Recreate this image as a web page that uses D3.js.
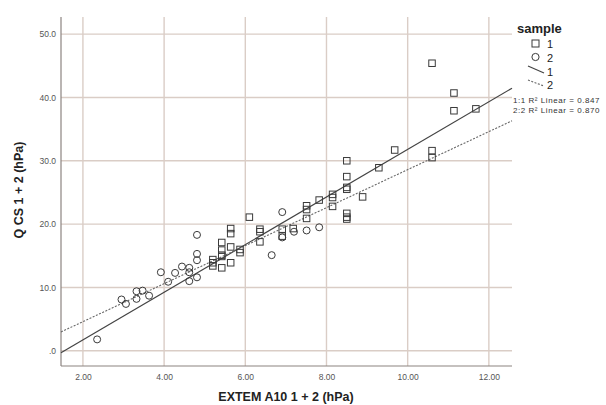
<!DOCTYPE html>
<html>
<head>
<meta charset="utf-8">
<script src="https://cdn.jsdelivr.net/npm/d3@7"></script>
<style>
  html, body { margin: 0; padding: 0; background: #fff; }
  svg { display: block; font-family: "Liberation Sans", Arial, sans-serif; }
</style>
</head>
<body>
<svg id="chart" width="606" height="405"></svg>
<script>
// EXTEM A10 vs QCS, two samples with linear fits
const xTicks = [2, 4, 6, 8, 10, 12];
const yTicks = [0, 10, 20, 30, 40, 50];
const xTickLabels = ["2.00", "4.00", "6.00", "8.00", "10.00", "12.00"];
const yTickLabels = [".0", "10.0", "20.0", "30.0", "40.0", "50.0"];

// sample 1 (squares)
const sample1X = [5.20, 5.20, 5.20, 5.42, 5.42, 5.42, 5.42, 5.42, 5.64, 5.64, 5.64, 5.64,
  5.87, 5.87, 6.10, 6.36, 6.36, 6.36, 6.91, 6.91, 7.18, 7.51, 7.51, 7.51, 7.82,
  8.15, 8.15, 8.15, 8.50, 8.50, 8.50, 8.50, 8.50, 8.50, 8.50, 8.89, 9.29, 9.68,
  10.60, 10.60, 10.60, 11.14, 11.14, 11.68];
const sample1Y = [13.9, 14.4, 13.4, 17.1, 15.9, 15.1, 14.9, 13.1, 19.3, 18.5, 16.4, 13.9,
  16.0, 15.5, 21.1, 19.2, 18.8, 17.2, 19.2, 18.1, 19.3, 22.9, 22.3, 20.9, 23.8,
  24.7, 24.2, 22.8, 30.0, 27.5, 25.8, 25.5, 21.7, 21.1, 20.8, 24.3, 28.9, 31.7,
  45.4, 31.6, 30.5, 40.7, 37.9, 38.2];

// sample 2 (circles)
const sample2X = [2.35, 2.95, 3.06, 3.32, 3.47, 3.32, 3.63, 3.92, 4.10, 4.27, 4.44, 4.62,
  4.62, 4.62, 4.81, 4.81, 4.81, 4.81, 6.65, 6.91, 6.91, 7.20, 7.51, 7.82];
const sample2Y = [1.8, 8.1, 7.4, 9.4, 9.5, 8.2, 8.7, 12.4, 10.9, 12.3, 13.3, 13.1,
  12.4, 11.0, 18.3, 15.3, 14.3, 11.6, 15.1, 21.9, 17.9, 18.8, 19.0, 19.5];

// linear fit lines: [intercept, slope]
const fitNames = ["1", "2"];
const fitIntercepts = [-5.8, -1.4];
const fitSlopes = [3.76, 3.0];
const fitLabels = ["1:1 R\u00b2 Linear = 0.847", "2:2 R\u00b2 Linear = 0.870"];

const svg = d3.select("#chart");
const plot = { left: 61, right: 512, top: 17, bottom: 366 };

const x = d3.scaleLinear().domain([1.46, 12.57]).range([plot.left, plot.right]);
const y = d3.scaleLinear().domain([-2.4, 52.7]).range([plot.bottom, plot.top]);

const gridColor = "#dacdc6";
const axisColor = "#8c8480";
const markColor = "#3a3a3a";

// grid
svg.append("g").selectAll("line").data(xTicks).join("line")
  .attr("x1", d => x(d)).attr("x2", d => x(d))
  .attr("y1", plot.top).attr("y2", plot.bottom)
  .attr("stroke", gridColor).attr("stroke-width", 1.4);
svg.append("g").selectAll("line").data(yTicks).join("line")
  .attr("x1", plot.left).attr("x2", plot.right)
  .attr("y1", d => y(d)).attr("y2", d => y(d))
  .attr("stroke", gridColor).attr("stroke-width", 1.4);

// axes
const xAxis = d3.axisBottom(x).tickValues(xTicks).tickSize(0)
  .tickFormat((d, i) => xTickLabels[i]).tickPadding(8);
const yAxis = d3.axisLeft(y).tickValues(yTicks).tickSize(0)
  .tickFormat((d, i) => yTickLabels[i]).tickPadding(5);

const gx = svg.append("g").attr("transform", `translate(0,${plot.bottom})`).call(xAxis);
const gy = svg.append("g").attr("transform", `translate(${plot.left},0)`).call(yAxis);
[gx, gy].forEach(g => {
  g.select(".domain").attr("stroke", axisColor).attr("stroke-width", 1.2);
  g.selectAll("text").attr("fill", "#555").attr("font-size", 8.5)
    .attr("font-family", "'Liberation Sans', Arial, sans-serif");
});
gx.select(".domain").attr("d", `M${plot.left},0H${plot.right}`);
gy.select(".domain").attr("d", `M0,${plot.top}V${plot.bottom}`);

// fit lines across the full x range
const [xd0, xd1] = x.domain();
fitNames.forEach((n, i) => {
  const a = fitIntercepts[i], b = fitSlopes[i];
  svg.append("line")
    .attr("x1", x(xd0)).attr("y1", y(a + b * xd0))
    .attr("x2", x(xd1)).attr("y2", y(a + b * xd1))
    .attr("stroke", i === 0 ? "#444" : "#666")
    .attr("stroke-width", i === 0 ? 1.2 : 1.1)
    .attr("stroke-dasharray", i === 0 ? null : "2,1.5");
});

// fit labels at the line ends
fitLabels.forEach((t, i) => {
  svg.append("text").attr("x", 513).attr("y", 103 + i * 10)
    .attr("font-size", 8).attr("letter-spacing", 0.55).attr("fill", "#333").text(t);
});

// markers
const sq = 6.5;
svg.append("g").selectAll("rect").data(d3.range(sample1X.length)).join("rect")
  .attr("x", i => x(sample1X[i]) - sq / 2).attr("y", i => y(sample1Y[i]) - sq / 2)
  .attr("width", sq).attr("height", sq)
  .attr("fill", "none").attr("stroke", markColor).attr("stroke-width", 1);
svg.append("g").selectAll("circle").data(d3.range(sample2X.length)).join("circle")
  .attr("cx", i => x(sample2X[i])).attr("cy", i => y(sample2Y[i])).attr("r", 3.5)
  .attr("fill", "none").attr("stroke", markColor).attr("stroke-width", 1);

// axis titles
svg.append("text").attr("x", 286).attr("y", 401).attr("text-anchor", "middle")
  .attr("font-size", 12.5).attr("font-weight", "bold").attr("fill", "#222")
  .text("EXTEM A10 1 + 2 (hPa)");
svg.append("text").attr("transform", "translate(23,190) rotate(-90)")
  .attr("text-anchor", "middle").attr("font-size", 12.5).attr("font-weight", "bold")
  .attr("fill", "#222").text("Q CS 1 + 2 (hPa)");

// legend
const lg = svg.append("g");
lg.append("text").attr("x", 517).attr("y", 33).attr("font-size", 13)
  .attr("font-weight", "bold").attr("fill", "#222").text("sample");
lg.append("rect").attr("x", 532).attr("y", 40).attr("width", 7).attr("height", 7)
  .attr("fill", "none").attr("stroke", markColor);
lg.append("circle").attr("cx", 535.5).attr("cy", 57).attr("r", 3.6)
  .attr("fill", "none").attr("stroke", markColor);
lg.append("line").attr("x1", 528).attr("y1", 66).attr("x2", 544).attr("y2", 73)
  .attr("stroke", "#444").attr("stroke-width", 1.2);
lg.append("line").attr("x1", 528).attr("y1", 80).attr("x2", 544).attr("y2", 86)
  .attr("stroke", "#666").attr("stroke-width", 1.1).attr("stroke-dasharray", "2,1.5");
["1", "2", "1", "2"].forEach((t, i) => {
  lg.append("text").attr("x", 547).attr("y", [48, 62, 76, 89][i])
    .attr("font-size", 11).attr("fill", "#222").text(t);
});
</script>
</body>
</html>
